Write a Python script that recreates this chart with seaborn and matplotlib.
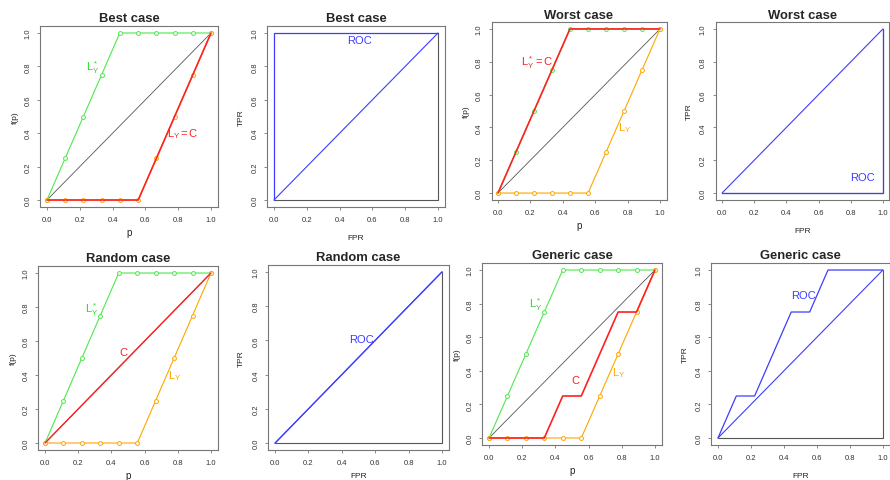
import matplotlib
matplotlib.use("Agg")
import matplotlib.pyplot as plt
import seaborn as sns

sns.set_theme(style="white")
plt.rcParams['font.family'] = ['Liberation Sans', 'DejaVu Sans']
plt.rcParams['mathtext.fontset'] = 'custom'
plt.rcParams['mathtext.rm'] = 'Liberation Sans'
plt.rcParams['mathtext.it'] = 'Liberation Sans'
plt.rcParams['mathtext.default'] = 'regular'

# ---------------- data ----------------
p = [0.0, 0.111, 0.222, 0.333, 0.444, 0.556, 0.667, 0.778, 0.889, 1.0]
l_star = [0.0, 0.25, 0.5, 0.75, 1.0, 1.0, 1.0, 1.0, 1.0, 1.0]
l_y = [0.0, 0.0, 0.0, 0.0, 0.0, 0.0, 0.25, 0.5, 0.75, 1.0]
c_best = l_y
c_worst = l_star
p_random = [0.0, 1.0]
c_random = [0.0, 1.0]
c_generic = [0.0, 0.0, 0.0, 0.0, 0.25, 0.25, 0.5, 0.75, 0.75, 1.0]
diag = [0.0, 1.0]

roc_best_fpr = [0.0, 0.0, 1.0]
roc_best_tpr = [0.0, 1.0, 1.0]
roc_worst_fpr = [0.0, 1.0, 1.0]
roc_worst_tpr = [0.0, 0.0, 1.0]
roc_random_fpr = [0.0, 1.0]
roc_random_tpr = [0.0, 1.0]
roc_generic_fpr = [0.0, 0.111, 0.222, 0.444, 0.556, 0.667, 1.0]
roc_generic_tpr = [0.0, 0.25, 0.25, 0.75, 0.75, 1.0, 1.0]
frame_x = [0.0, 1.0, 1.0]
frame_y = [0.0, 0.0, 1.0]

titles = ["Best case", "Best case", "Worst case", "Worst case",
          "Random case", "Random case", "Generic case", "Generic case"]
ticks = [0.0, 0.2, 0.4, 0.6, 0.8, 1.0]
tick_labels = ["0.0", "0.2", "0.4", "0.6", "0.8", "1.0"]

GREEN = "#4ee84e"
GREEN_T = "#2fd42f"
ORANGE = "#ffa500"
RED = "#ff2020"
BLUE = "#3d3dff"
GRAY = "#555555"

W, H = 890, 481
fig = plt.figure(figsize=(8.9, 4.81), dpi=100)

# box positions in pixels: left, right, top, bottom
boxes = [
    (40.4, 217.6, 27.3, 207.7),
    (267.4, 444.6, 27.3, 207.7),
    (491.5, 666.5, 23.4, 200.6),
    (715.6, 889.4, 23.4, 200.6),
    (38.4, 217.6, 267.2, 450.8),
    (268.3, 448.7, 266.0, 451.0),
    (482.4, 661.6, 264.3, 445.7),
    (711.4, 889.5, 264.3, 445.7),
]

axes = []
for (l, r, t, b), title in zip(boxes, titles):
    ax = fig.add_axes([l / W, 1 - b / H, (r - l) / W, (b - t) / H])
    ax.set_xlim(-0.04, 1.04)
    ax.set_ylim(-0.04, 1.04)
    ax.set_xticks(ticks)
    ax.set_xticklabels(tick_labels)
    ax.set_yticks(ticks)
    ax.set_yticklabels(tick_labels, rotation=90, va="center")
    ax.tick_params(axis="both", which="both", direction="out", length=2.5,
                   width=0.6, color="#777777", labelsize=5.5,
                   labelcolor="#333333", pad=4, left=True, bottom=True)
    for s in ax.spines.values():
        s.set_color("#777777")
        s.set_linewidth(0.8)
    ax.set_title(title, fontsize=9.4, fontweight="bold", pad=3.5)
    axes.append(ax)


def curve(ax, x, y, color, lw=0.8, marker=None, z=2):
    kw = dict(x=x, y=y, ax=ax, color=color, linewidth=lw, sort=False,
              estimator=None, zorder=z)
    if marker:
        kw.update(marker="o", markersize=2.8, markerfacecolor="white",
                  markeredgecolor=color, markeredgewidth=0.7)
    sns.lineplot(**kw)


def left_panel(ax, c_x, c_y, c_lw):
    curve(ax, diag, diag, GRAY, lw=0.6, z=1.5)
    curve(ax, p, l_star, GREEN, lw=0.8, marker=True, z=2)
    curve(ax, p, l_y, ORANGE, lw=0.8, marker=True, z=2.1)
    curve(ax, c_x, c_y, RED, lw=c_lw, z=2.5)
    ax.set_xlabel("p", fontsize=7, labelpad=3, color="#222222")
    ax.set_ylabel("f(p)", fontsize=6, labelpad=4, color="#222222")


def roc_panel(ax, fx, fy, xpad=8):
    curve(ax, frame_x, frame_y, GRAY, lw=0.8, z=1.5)
    curve(ax, diag, diag, BLUE, lw=0.8, z=2)
    curve(ax, fx, fy, BLUE, lw=0.9, z=2.2)
    ax.set_xlabel("FPR", fontsize=6, labelpad=xpad, color="#222222")
    ax.set_ylabel("TPR", fontsize=6, labelpad=5, color="#222222")


def txt(ax, x, y, s, color):
    ax.text(x, y, s, color=color, fontsize=8, ha="center", va="center", zorder=5)


# Best case
left_panel(axes[0], p, c_best, 1.2)
txt(axes[0], 0.28, 0.80, r"$L_Y^*$", GREEN_T)
txt(axes[0], 0.83, 0.40, r"$L_Y = C$", RED)
roc_panel(axes[1], roc_best_fpr, roc_best_tpr)
txt(axes[1], 0.52, 0.96, "ROC", BLUE)

# Worst case
left_panel(axes[2], p, c_worst, 1.2)
txt(axes[2], 0.24, 0.80, r"$L_Y^* = C$", RED)
txt(axes[2], 0.78, 0.40, r"$L_Y$", ORANGE)
roc_panel(axes[3], roc_worst_fpr, roc_worst_tpr)
txt(axes[3], 0.87, 0.10, "ROC", BLUE)

# Random case
left_panel(axes[4], p_random, c_random, 1.0)
txt(axes[4], 0.28, 0.79, r"$L_Y^*$", GREEN_T)
txt(axes[4], 0.47, 0.535, "C", RED)
txt(axes[4], 0.78, 0.40, r"$L_Y$", ORANGE)
roc_panel(axes[5], roc_random_fpr, roc_random_tpr, xpad=4.5)
txt(axes[5], 0.515, 0.61, "ROC", BLUE)

# Generic case
left_panel(axes[6], p, c_generic, 1.2)
txt(axes[6], 0.28, 0.80, r"$L_Y^*$", GREEN_T)
txt(axes[6], 0.52, 0.345, "C", RED)
txt(axes[6], 0.78, 0.39, r"$L_Y$", ORANGE)
roc_panel(axes[7], roc_generic_fpr, roc_generic_tpr)
txt(axes[7], 0.52, 0.85, "ROC", BLUE)

fig.savefig("out.png", dpi=100, facecolor="white")
